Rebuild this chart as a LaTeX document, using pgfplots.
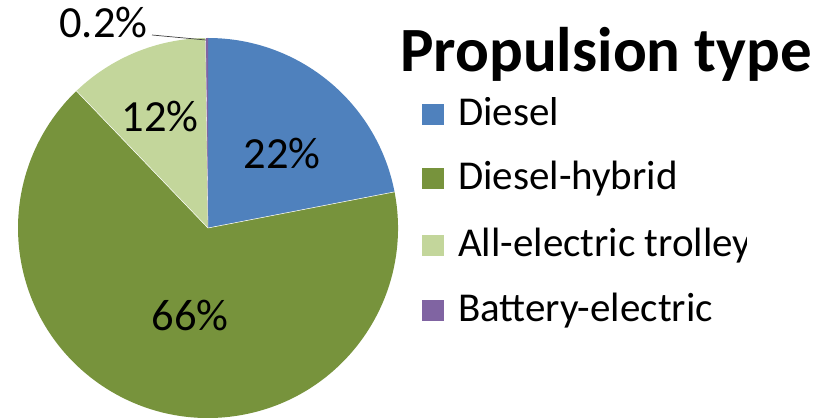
\documentclass[border=0pt]{standalone}
\usepackage{pgfplots}
\usepackage{pgfplotstable}
\pgfplotsset{compat=1.18}
\usepackage{fontspec}
\setmainfont{Carlito}

\definecolor{cDiesel}{HTML}{4F81BD}
\definecolor{cHybrid}{HTML}{77933C}
\definecolor{cTrolley}{HTML}{C3D69B}
\definecolor{cBattery}{HTML}{8064A2}

% share of the fleet by propulsion type, in percent
\pgfplotstableread[col sep=comma]{
type,share
Diesel,22
Diesel-hybrid,66
All-electric trolley,12
Battery-electric,0.2
}\shares

\pgfplotstablegetelem{0}{share}\of\shares \pgfmathsetmacro\sA{\pgfplotsretval}
\pgfplotstablegetelem{1}{share}\of\shares \pgfmathsetmacro\sB{\pgfplotsretval}
\pgfplotstablegetelem{2}{share}\of\shares \pgfmathsetmacro\sC{\pgfplotsretval}
\pgfplotstablegetelem{3}{share}\of\shares \pgfmathsetmacro\sD{\pgfplotsretval}
\pgfmathsetmacro\sT{\sA+\sB+\sC+\sD}
% slice boundaries, clockwise from twelve o'clock
\pgfmathsetmacro\aO{90}
\pgfmathsetmacro\aA{\aO-(\sA/\sT)*360}
\pgfmathsetmacro\aB{\aA-(\sB/\sT)*360}
\pgfmathsetmacro\aC{\aB-(\sC/\sT)*360}
\pgfmathsetmacro\aD{\aO-360}

\def\cx{208}\def\cy{190}\def\R{190pt}
\newcommand\legendrow[3]{%
  \fill[#1] (axis cs:422,#3+0.5) rectangle (axis cs:444,#3+22);
  \node[font=\fontsize{41}{48}\selectfont, inner sep=0pt, anchor=base west] at (axis cs:458,#3) {#2};}

\begin{document}
\begin{tikzpicture}
\begin{axis}[
  scale only axis, width=831pt, height=418pt,
  xmin=0, xmax=831, ymin=0, ymax=418,
  hide axis, clip=false,
]
\fill[cDiesel]  (axis cs:\cx,\cy) -- ++(\aO:\R) arc[start angle=\aO, end angle=\aA, radius=\R] -- cycle;
\fill[cHybrid]  (axis cs:\cx,\cy) -- ++(\aA:\R) arc[start angle=\aA, end angle=\aB, radius=\R] -- cycle;
\fill[cTrolley] (axis cs:\cx,\cy) -- ++(\aB:\R) arc[start angle=\aB, end angle=\aC, radius=\R] -- cycle;
\fill[cBattery] (axis cs:\cx,\cy) -- ++(\aC:\R) arc[start angle=\aC, end angle=\aD, radius=\R] -- cycle;
% thin separators between slices
\draw[white, line width=0.5pt] (axis cs:\cx,\cy) -- ++(\aA:\R);
\draw[white, line width=0.5pt] (axis cs:\cx,\cy) -- ++(\aB:\R);
\draw[white, line width=0.3pt] (axis cs:\cx,\cy) -- ++(\aC:\R);

% slice labels
\node[font=\fontsize{44.5}{50}\selectfont, inner sep=0pt] at (axis cs:282,264) {22\%};
\node[font=\fontsize{44.5}{50}\selectfont, inner sep=0pt] at (axis cs:190,102) {66\%};
\node[font=\fontsize{44.5}{50}\selectfont, inner sep=0pt] at (axis cs:160,301) {12\%};
\node[font=\fontsize{44.5}{50}\selectfont, inner sep=0pt] at (axis cs:103.5,395) {0.2\%};
\draw[black!75, line width=0.7pt] (axis cs:152,383) -- (axis cs:206,378);

% legend
\node[font=\bfseries\fontsize{63}{70}\selectfont, inner sep=0pt, anchor=base west] at (axis cs:400,346) {Propulsion type};
\begin{scope}
\clip (axis cs:400,60) rectangle (axis cs:746,320);
\legendrow{cDiesel}{Diesel}{292}
\legendrow{cHybrid}{Diesel-hybrid}{228}
\legendrow{cTrolley}{All-electric trolley}{161}
\legendrow{cBattery}{Battery-electric}{96}
\end{scope}
\end{axis}
\pgfresetboundingbox
\path (0,0) rectangle (831pt,418pt);
\end{tikzpicture}
\end{document}
